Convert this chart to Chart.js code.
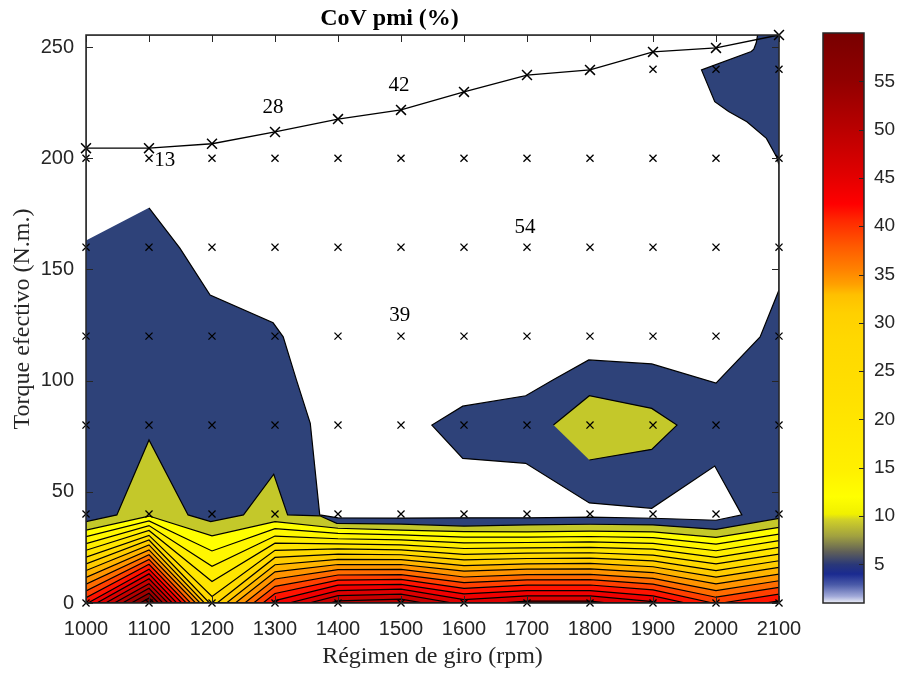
<!DOCTYPE html>
<html>
<head>
<meta charset="utf-8">
<script src="https://cdn.jsdelivr.net/npm/chart.js@4.4.0/dist/chart.umd.min.js"></script>
<style>
  html, body { margin: 0; padding: 0; background: #fff; }
  #wrap { position: relative; width: 898px; height: 673px; }
  #wrap canvas { position: absolute; top: 0; }
  #main { left: 0; }
  #bar { left: 780px; }
</style>
</head>
<body>
<div id="wrap">
  <canvas id="main" width="898" height="673"></canvas>
  <canvas id="bar" width="118" height="673"></canvas>
</div>
<script>
let rpm = [1000, 1100, 1200, 1300, 1400, 1500, 1600, 1700, 1800, 1900, 2000, 2100]
let torqueTicks = [0, 50, 100, 150, 200, 250]
let torqueTop = 255.4

// measured points (x markers)
let gridTorque = [0, 40, 80, 120, 160, 200]
let extraPoints = [[1900, 240], [2000, 240], [2100, 240]]

// max torque curve
let maxTorque = [204.5, 204.5, 206.5, 211.8, 217.6, 221.7, 229.8, 237.4, 239.7, 247.8, 249.6, 255.4]

// text labels on the map
let labelText = ['13', '28', '42', '54', '39']
let labelRpm = [1125, 1297, 1497, 1697, 1498]
let labelTorque = [199.2, 222.6, 232.9, 169, 129.5]

// contour outlines (rpm, torque)
let blueField = [[1000, 0], [1000, 255.4], [2100, 255.4], [2100, 0]]
let whiteZone = [[1000, 163], [1000, 255.4], [2066, 255.4], [2064, 252], [2060, 249], [2056, 248], [1977, 239.7],
  [1998, 225.4], [2020, 221], [2049, 216.4], [2080, 208.9], [2096, 200.7], [2100, 197], [2100, 140.7],
  [2070, 119.6], [2000, 98.9], [1898, 107.5], [1798, 109.3], [1741, 100.3], [1698, 93.2], [1598, 88.5],
  [1549, 80], [1598, 65], [1698, 62.8], [1799, 45], [1898, 42.6], [1998, 61.6], [2041, 39.6], [2000, 37.2],
  [1900, 38.1], [1800, 38.6], [1700, 38.3], [1600, 38.3], [1500, 38.2], [1400, 38.3], [1371, 39.6],
  [1356, 80.8], [1334, 100.3], [1313, 119.7], [1297, 126], [1197, 138.5], [1149, 159.6], [1100, 177.7]]
let oliveBand = [[1000, 0], [1000, 36.6], [1049, 39.6], [1100, 73.3], [1162, 39.6], [1198, 36.6], [1250, 39.6],
  [1298, 57.9], [1320, 39.6], [1371, 39.2], [1398, 35.8], [1500, 35.5], [1600, 34.6], [1700, 35.1], [1800, 35.4],
  [1900, 35.1], [2000, 33.1], [2100, 38.1], [2100, 0]]
let oliveIsland = [[1742, 80], [1799, 93.2], [1898, 87.5], [1938, 80], [1898, 69.1], [1799, 64.3]]

// lower contour lines, from the lowest level up
let levelLines = [
  [[1000, 32.8], [1100, 39.1], [1200, 30.2], [1300, 36.6], [1400, 33.6], [1500, 32.8], [1600, 32.1], [1700, 32.0], [1800, 32.3], [1900, 32.0], [2000, 29.5], [2100, 34.0]],
  [[1000, 29.8], [1100, 36.9], [1200, 23.4], [1300, 33.4], [1400, 31.3], [1500, 30.6], [1600, 29.6], [1700, 29.6], [1800, 29.9], [1900, 29.4], [2000, 26.5], [2100, 31.0]],
  [[1000, 26.7], [1100, 34.8], [1200, 16.5], [1300, 30.1], [1400, 28.9], [1500, 28.4], [1600, 27.0], [1700, 27.2], [1800, 27.5], [1900, 26.8], [2000, 23.5], [2100, 28.0]],
  [[1000, 23.7], [1100, 32.6], [1200, 9.7], [1300, 26.9], [1400, 26.6], [1500, 26.1], [1600, 24.5], [1700, 24.8], [1800, 25.0], [1900, 24.2], [2000, 20.5], [2100, 25.0]],
  [[1000, 20.6], [1100, 30.4], [1200, 2.9], [1300, 23.7], [1400, 24.3], [1500, 23.9], [1600, 21.9], [1700, 22.4], [1800, 22.6], [1900, 21.5], [2000, 17.6], [2100, 22.0]],
  [[1000, 17.6], [1100, 28.3], [1196, 0], [1208, 0], [1300, 20.5], [1400, 22.0], [1500, 21.7], [1600, 19.4], [1700, 20.0], [1800, 20.2], [1900, 18.9], [2000, 14.6], [2100, 19.0]],
  [[1000, 14.6], [1100, 26.1], [1188, 0], [1223, 0], [1300, 17.2], [1400, 19.6], [1500, 19.5], [1600, 16.8], [1700, 17.6], [1800, 17.8], [1900, 16.3], [2000, 11.6], [2100, 16.0]],
  [[1000, 11.5], [1100, 23.9], [1181, 0], [1237, 0], [1300, 14.0], [1400, 17.3], [1500, 17.3], [1600, 14.3], [1700, 15.2], [1800, 15.3], [1900, 13.7], [2000, 8.6], [2100, 13.0]],
  [[1000, 8.5], [1100, 21.7], [1174, 0], [1252, 0], [1300, 10.8], [1400, 15.0], [1500, 15.1], [1600, 11.7], [1700, 12.8], [1800, 12.9], [1900, 11.1], [2000, 5.6], [2100, 10.0]],
  [[1000, 5.4], [1100, 19.6], [1166, 0], [1266, 0], [1300, 7.5], [1400, 12.6], [1500, 12.8], [1600, 9.2], [1700, 10.4], [1800, 10.5], [1900, 8.5], [2000, 2.6], [2100, 7.0]],
  [[1000, 2.4], [1100, 17.4], [1159, 0], [1281, 0], [1300, 4.3], [1400, 10.3], [1500, 10.6], [1600, 6.6], [1700, 8.0], [1800, 8.1], [1900, 5.9], [1995, 0], [2009, 0], [2100, 4.0]],
  [[1003, 0], [1100, 15.2], [1152, 0], [1295, 0], [1300, 1.1], [1400, 8.0], [1500, 8.4], [1600, 4.1], [1700, 5.6], [1800, 5.6], [1900, 3.2], [1952, 0], [2078, 0], [2100, 1.0]],
  [[1017, 0], [1100, 13.1], [1144, 0], [1322, 0], [1400, 5.6], [1500, 6.2], [1600, 1.5], [1700, 3.2], [1800, 3.2], [1900, 0.6], [1910, 0]],
  [[1031, 0], [1100, 10.9], [1137, 0], [1354, 0], [1400, 3.3], [1500, 4.0], [1582, 0], [1655, 0], [1700, 0.8], [1800, 0.8], [1830, 0]],
  [[1045, 0], [1100, 8.7], [1130, 0], [1387, 0], [1400, 1.0], [1500, 1.7], [1536, 0]],
  [[1058, 0], [1100, 6.6], [1122, 0]],
  [[1072, 0], [1100, 4.4], [1115, 0]],
  [[1086, 0], [1100, 2.2], [1108, 0]],
]
let levelColours = ['#ffff00', '#fff700', '#ffee00', '#ffe500', '#ffda00', '#ffcc00', '#ffb400', '#ff9400', '#ff6c00',
  '#ff4000', '#ff1400', '#f00000', '#dc0000', '#c80000', '#b40000', '#a00000', '#8c0000', '#7a0000']

// colour bar
let barMin = 1
let barMax = 60
let barTicks = [5, 10, 15, 20, 25, 30, 35, 40, 45, 50, 55]
let barStops = [1, 1.7, 2.9, 4.0, 5.0, 6.3, 7.9, 9.6, 10.2, 12, 14.8, 18.7, 22.5, 28.3, 31, 32.9, 34, 35.6, 37.9, 40.6, 42.3, 45.4, 50.2, 55.2, 60]
let barColours = ['#eef0f8', '#a0a8d8', '#4a5aa8', '#1a2a90', '#2a3878', '#606058', '#a0a040', '#d0d028', '#f0f000', '#ffff00',
  '#fff000', '#ffe800', '#ffe000', '#ffd800', '#ffd000', '#ffc000', '#ffa000', '#ff8000', '#ff5a00', '#ff2800', '#ff0000',
  '#e00000', '#b80000', '#900000', '#780000']

let axisColour = '#262626'
let tickFont = {family: 'Liberation Sans', size: 20}
let serif = 'Liberation Serif'

function toXY(points) {
  return points.map(p => ({x: p[0], y: p[1]}))
}

function region(points, colour, lineWidth) {
  return {
    data: toXY(points),
    backgroundColor: colour,
    borderColor: '#000',
    borderWidth: lineWidth,
    fill: 'shape',
    pointRadius: 0,
    tension: 0,
  }
}

let drawList = []
drawList.push(region(blueField, '#2e4279', 0))
drawList.push(region(whiteZone, '#ffffff', 1.2))
drawList.push(region(oliveBand, '#c4c82a', 1.2))
drawList.push(region(oliveIsland, '#c4c82a', 1.2))
for (let i = 0; i < levelLines.length; ++i) {
  let pts = [[rpm[0], 0]].concat(levelLines[i], [[rpm[rpm.length - 1], 0]])
  drawList.push(region(pts, levelColours[i], 1.2))
}

let measured = []
for (let r of rpm)
  for (let t of gridTorque)
    measured.push([r, t])
measured = measured.concat(extraPoints)

drawList.push({
  data: rpm.map((r, i) => ({x: r, y: maxTorque[i]})),
  borderColor: '#000',
  borderWidth: 1.3,
  fill: false,
  tension: 0,
  pointStyle: 'crossRot',
  pointRadius: 7,
  pointBorderWidth: 1.5,
  pointBorderColor: '#000',
  clip: false,
})
drawList.push({
  data: toXY(measured),
  showLine: false,
  pointStyle: 'crossRot',
  pointRadius: 5,
  pointBorderWidth: 1.3,
  pointBorderColor: '#000',
  clip: false,
})
// first in the list is painted first
drawList.forEach((d, i) => { d.order = drawList.length - i })

let mapLabels = {
  id: 'mapLabels',
  afterDatasetsDraw(chart) {
    let {ctx, scales: {x, y}} = chart
    ctx.save()
    ctx.font = '21px "' + serif + '"'
    ctx.fillStyle = '#000'
    ctx.textAlign = 'center'
    ctx.textBaseline = 'middle'
    for (let i = 0; i < labelText.length; ++i)
      ctx.fillText(labelText[i], x.getPixelForValue(labelRpm[i]), y.getPixelForValue(labelTorque[i]))
    ctx.restore()
  },
}

let frame = {
  id: 'frame',
  afterDraw(chart) {
    let {ctx, chartArea: a, scales: {x, y}} = chart
    ctx.save()
    ctx.strokeStyle = axisColour
    ctx.lineWidth = 1
    ctx.beginPath()
    for (let t of x.ticks) {
      let px = Math.round(x.getPixelForValue(t.value)) + 0.5
      ctx.moveTo(px, a.bottom); ctx.lineTo(px, a.bottom - 7)
      ctx.moveTo(px, a.top); ctx.lineTo(px, a.top + 7)
    }
    for (let t of y.ticks) {
      let py = Math.round(y.getPixelForValue(t.value)) + 0.5
      ctx.moveTo(a.left, py); ctx.lineTo(a.left + 7, py)
      ctx.moveTo(a.right, py); ctx.lineTo(a.right - 7, py)
    }
    ctx.stroke()
    ctx.lineWidth = 1.5
    ctx.strokeRect(a.left, a.top, a.right - a.left, a.bottom - a.top)
    ctx.restore()
  },
}

new Chart(document.getElementById('main'), {
  type: 'line',
  data: {datasets: drawList},
  options: {
    responsive: false,
    animation: false,
    devicePixelRatio: 1,
    events: [],
    layout: {padding: {left: 0, right: 119, top: 0, bottom: 0}},
    plugins: {
      legend: {display: false},
      tooltip: {enabled: false},
      title: {
        display: true,
        text: 'CoV pmi (%)',
        color: '#000',
        font: {family: serif, size: 24, weight: 'bold'},
        padding: {top: 4, bottom: 2.2},
      },
    },
    scales: {
      x: {
        type: 'linear',
        min: rpm[0],
        max: rpm[rpm.length - 1],
        z: 1,
        afterFit: s => { s.height = 70 },
        afterBuildTicks: s => { s.ticks = rpm.map(v => ({value: v})) },
        ticks: {color: axisColour, font: tickFont, padding: 14, maxRotation: 0, autoSkip: false,
          callback: v => String(v)},
        grid: {color: 'rgba(0,0,0,0.15)', drawTicks: false},
        border: {display: false},
        title: {display: true, text: 'Régimen de giro (rpm)', color: axisColour,
          font: {family: serif, size: 24}, padding: {top: 0, bottom: 2}},
      },
      y: {
        type: 'linear',
        min: 0,
        max: torqueTop,
        z: 1,
        afterFit: s => { s.width = 86 },
        afterBuildTicks: s => { s.ticks = torqueTicks.map(v => ({value: v})) },
        ticks: {color: axisColour, font: tickFont, padding: 12, callback: v => String(v)},
        grid: {color: 'rgba(0,0,0,0.15)', drawTicks: false},
        border: {display: false},
        title: {display: true, text: 'Torque efectivo (N.m.)', color: axisColour,
          font: {family: serif, size: 24}, padding: {top: 8, bottom: 0}},
      },
    },
  },
  plugins: [mapLabels, frame],
})

let colourBar = {
  id: 'colourBar',
  afterDraw(chart) {
    let {ctx, chartArea: a, scales: {y}} = chart
    let y0 = y.getPixelForValue(barMin)
    let y1 = y.getPixelForValue(barMax)
    let grad = ctx.createLinearGradient(0, y0, 0, y1)
    for (let i = 0; i < barStops.length; ++i)
      grad.addColorStop((barStops[i] - barMin) / (barMax - barMin), barColours[i])
    ctx.save()
    ctx.fillStyle = grad
    ctx.fillRect(a.left, a.top, a.right - a.left, a.bottom - a.top)
    ctx.strokeStyle = axisColour
    ctx.lineWidth = 1
    ctx.beginPath()
    for (let t of y.ticks) {
      let py = Math.round(y.getPixelForValue(t.value)) + 0.5
      ctx.moveTo(a.right, py); ctx.lineTo(a.right - 5, py)
    }
    ctx.stroke()
    ctx.lineWidth = 1.5
    ctx.strokeRect(a.left, a.top, a.right - a.left, a.bottom - a.top)
    ctx.restore()
  },
}

new Chart(document.getElementById('bar'), {
  type: 'line',
  data: {datasets: []},
  options: {
    responsive: false,
    animation: false,
    devicePixelRatio: 1,
    events: [],
    layout: {padding: {left: 43, top: 33, bottom: 70, right: 0}},
    plugins: {legend: {display: false}, tooltip: {enabled: false}},
    scales: {
      x: {display: false, type: 'linear', min: 0, max: 1},
      y: {
        type: 'linear',
        position: 'right',
        min: barMin,
        max: barMax,
        afterFit: s => { s.width = 34 },
        afterBuildTicks: s => { s.ticks = barTicks.map(v => ({value: v})) },
        ticks: {color: axisColour, font: {family: 'Liberation Sans', size: 19}, padding: 10},
        grid: {display: false, drawTicks: false},
        border: {display: false},
      },
    },
  },
  plugins: [colourBar],
})
</script>
</body>
</html>
